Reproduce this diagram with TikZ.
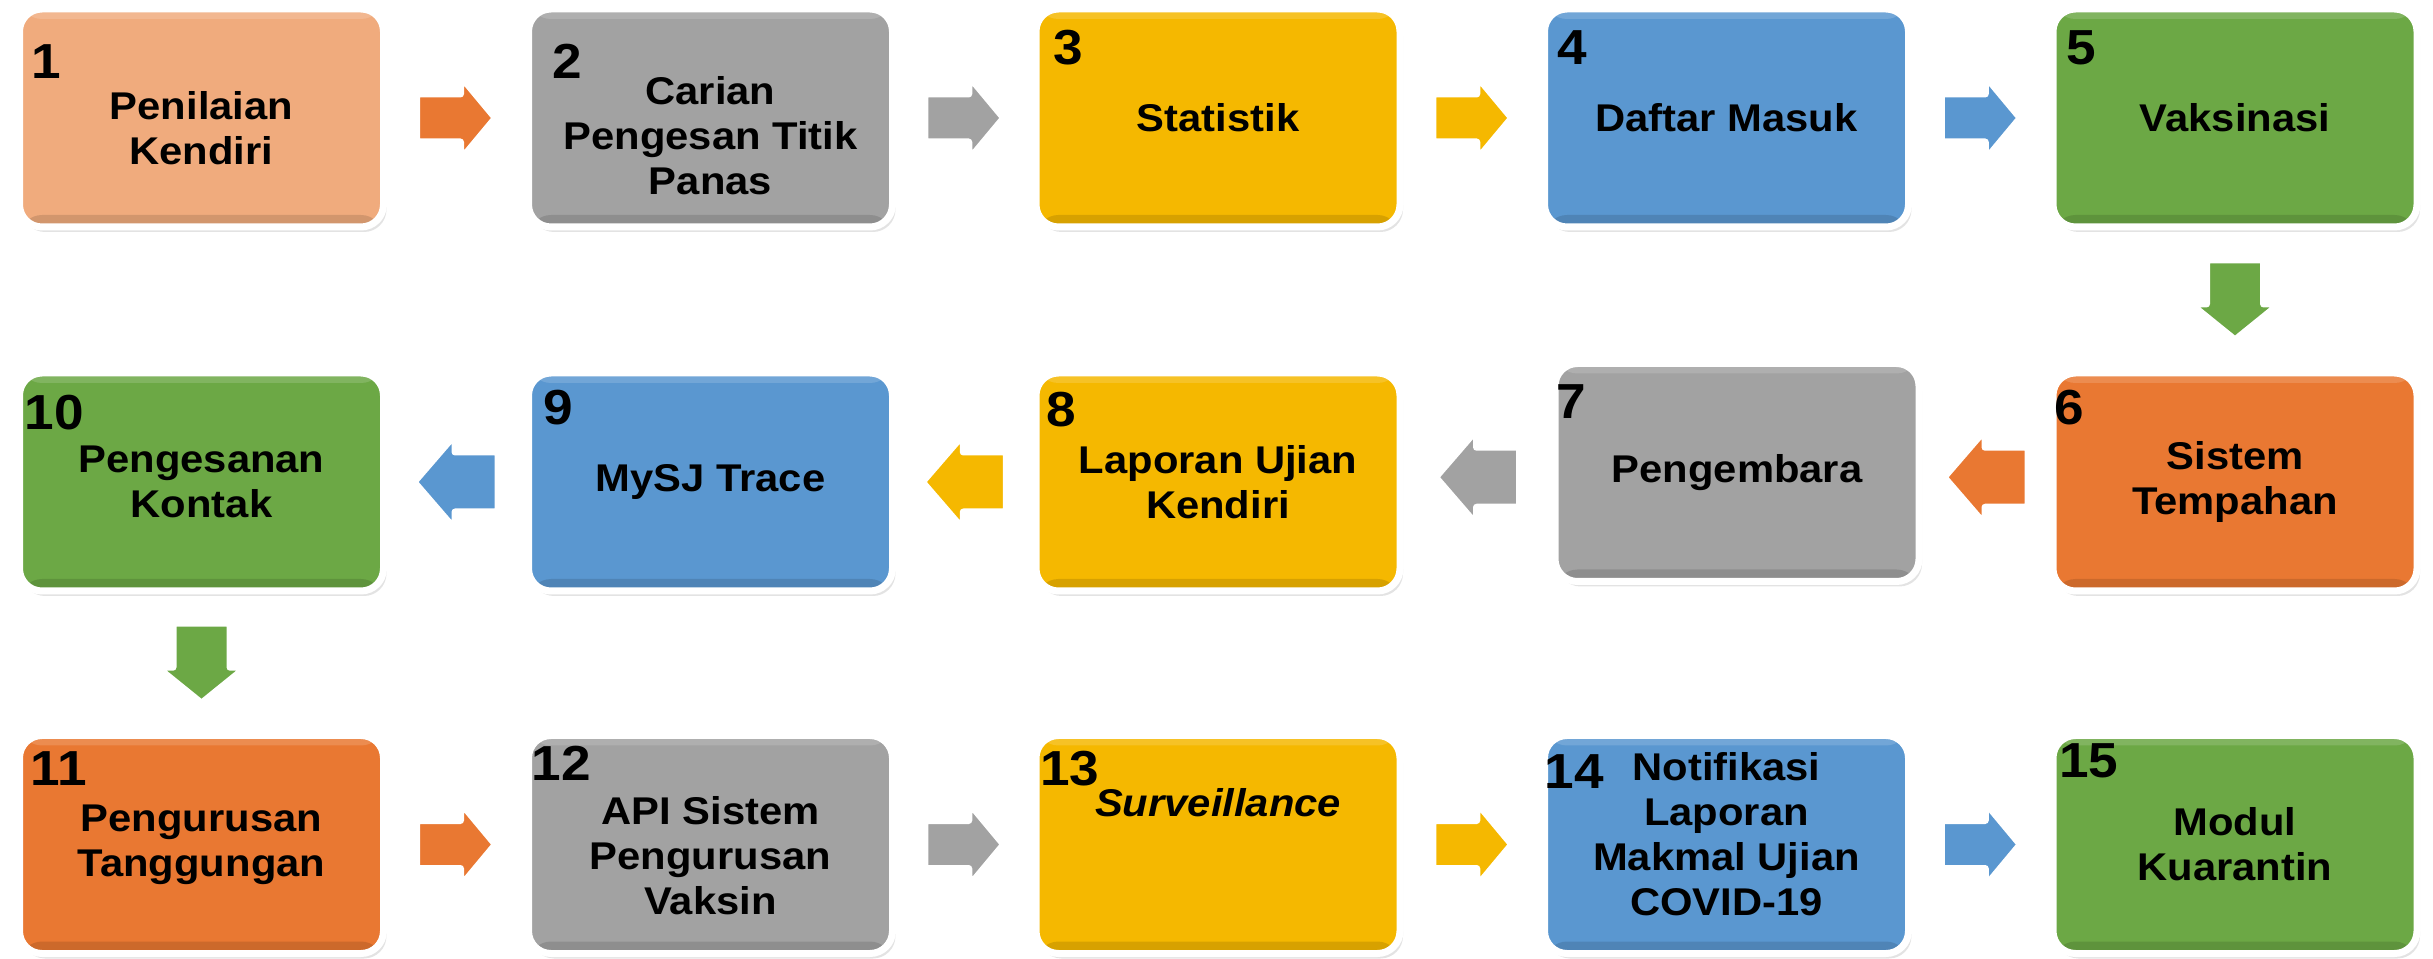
\documentclass[tikz,border=0pt]{standalone}
\usepackage{fontspec}
\setmainfont[FakeStretch=1.08]{Liberation Sans}
\usetikzlibrary{shadows,calc}

\definecolor{peach}{HTML}{F0AB7D}
\definecolor{orng}{HTML}{E97832}
\definecolor{grey}{HTML}{A2A2A2}
\definecolor{gold}{HTML}{F5B800}
\definecolor{blu}{HTML}{5A97D0}
\definecolor{grn}{HTML}{6CA845}

\tikzset{
  card/.style={rectangle, draw=white, line width=0.14cm, rounded corners=0.45cm,
    minimum width=7.28cm, minimum height=4.36cm, inner sep=0pt,
    drop shadow={shadow xshift=0.06cm, shadow yshift=-0.1cm, opacity=0.22},
    path picture={
      \fill[white,opacity=0.15] (path picture bounding box.north west) rectangle ([yshift=-0.2cm]path picture bounding box.north east);
      \fill[black,opacity=0.12] (path picture bounding box.south west) rectangle ([yshift=0.24cm]path picture bounding box.south east);
    }},
  num/.style={anchor=base west, inner sep=0pt, font=\fontsize{28}{32}\selectfont\bfseries},
  cardtext/.style={align=center, inner sep=0pt, font=\fontsize{22}{25.6}\selectfont\bfseries},
  % half length / half shaft / half head / head length
  pics/blockarrow/.style args={#1/#2/#3/#4}{code={
    \draw[pic actions] (-#1,-#2) -- ({#1-#4},-#2) -- ({#1-#4},-#3) -- (#1,0)
      -- ({#1-#4},#3) -- ({#1-#4},#2) -- (-#1,#2) -- cycle;}},
  flow/.style={draw=white, line width=0.14cm, line join=round,
    drop shadow={shadow xshift=0.04cm, shadow yshift=-0.06cm, opacity=0.2}},
}

\begin{document}
\begin{tikzpicture}
\useasboundingbox (0,0) rectangle (48.66,-19.18);
% first row
\node[card, fill=peach] (b1) at (4.03,-2.36) {};
\node[card, fill=grey]  (b2) at (14.21,-2.36) {};
\node[card, fill=gold]  (b3) at (24.36,-2.36) {};
\node[card, fill=blu]   (b4) at (34.53,-2.36) {};
\node[card, fill=grn]   (b5) at (44.70,-2.36) {};
% second row, right to left
\node[card, fill=orng]  (b6) at (44.70,-9.64) {};
\node[card, fill=grey]  (b7) at (34.74,-9.45) {};
\node[card, fill=gold]  (b8) at (24.36,-9.64) {};
\node[card, fill=blu]   (b9) at (14.21,-9.64) {};
\node[card, fill=grn]   (b10) at (4.03,-9.64) {};
% third row
\node[card, fill=orng]  (b11) at (4.03,-16.89) {};
\node[card, fill=grey]  (b12) at (14.21,-16.89) {};
\node[card, fill=gold]  (b13) at (24.36,-16.89) {};
\node[card, fill=blu]   (b14) at (34.53,-16.89) {};
\node[card, fill=grn]   (b15) at (44.70,-16.89) {};

\node[cardtext] (t1) at ([yshift=-0.2cm]b1.center) {Penilaian\\Kendiri};
\node[cardtext] (t2) at ([yshift=-0.36cm]b2.center) {Carian\\Pengesan Titik\\Panas};
\node[cardtext] (t3) at (b3.center) {Statistik};
\node[cardtext] (t4) at (b4.center) {Daftar Masuk};
\node[cardtext] (t5) at (b5.center) {Vaksinasi};
\node[cardtext] (t6) at (b6.center) {Sistem\\Tempahan};
\node[cardtext] (t7) at (b7.center) {Pengembara};
\node[cardtext] (t8) at (b8.center) {Laporan Ujian\\Kendiri};
\node[cardtext] (t9) at (b9.center) {MySJ Trace};
\node[cardtext] (t10) at (b10.center) {Pengesanan\\Kontak};
\node[cardtext] (t11) at (b11.center) {Pengurusan\\Tanggungan};
\node[cardtext] (t12) at ([yshift=-0.23cm]b12.center) {API Sistem\\Pengurusan\\Vaksin};
\node[cardtext] (t13) at ([yshift=0.84cm]b13.center) {\itshape Surveillance};
\node[cardtext] (t14) at ([yshift=0.2cm]b14.center) {Notifikasi\\Laporan\\Makmal Ujian\\COVID-19};
\node[cardtext] (t15) at (b15.center) {Modul\\Kuarantin};

% step numbers
\foreach \i/\dx/\dy in {1/0.31/1.47, 2/0.55/1.47, 3/0.41/1.19, 4/0.33/1.19, 5/0.33/1.19,
  6/0.09/1.11, 7/0.09/1.17, 8/0.27/1.15, 9/0.37/1.11, 10/0.17/1.21,
  11/0.29/1.07, 12/0.13/0.97, 13/0.15/1.07, 14/0.07/1.13, 15/0.19/0.91}
\node[num] (n\i) at ($(b\i.north west)+(\dx,-\dy)$) {\i};

% arrows
\foreach \a/\b/\c in {b1/b2/orng, b2/b3/grey, b3/b4/gold, b4/b5/blu,
  b11/b12/orng, b12/b13/grey, b13/b14/gold, b14/b15/blu}
\pic[flow, fill=\c] (a-\a) at ($(\a.east)!0.5!(\b.west)$) {blockarrow=0.79/0.48/0.84/0.70};
\foreach \a/\b/\c in {b6/b7/orng, b7/b8/grey, b8/b9/gold, b9/b10/blu}
\pic[flow, fill=\c, rotate=180] (a-\a) at ($(\a.west)!0.5!(\b.east)$) {blockarrow=0.84/0.60/0.95/0.82};
\pic[flow, fill=grn, rotate=-90] (a-b5) at ($(b5.south)!0.5!(b6.north)$) {blockarrow=0.80/0.57/0.89/0.72};
\pic[flow, fill=grn, rotate=-90] (a-b10) at ($(b10.south)!0.5!(b11.north)$) {blockarrow=0.80/0.57/0.89/0.72};
\end{tikzpicture}
\end{document}
